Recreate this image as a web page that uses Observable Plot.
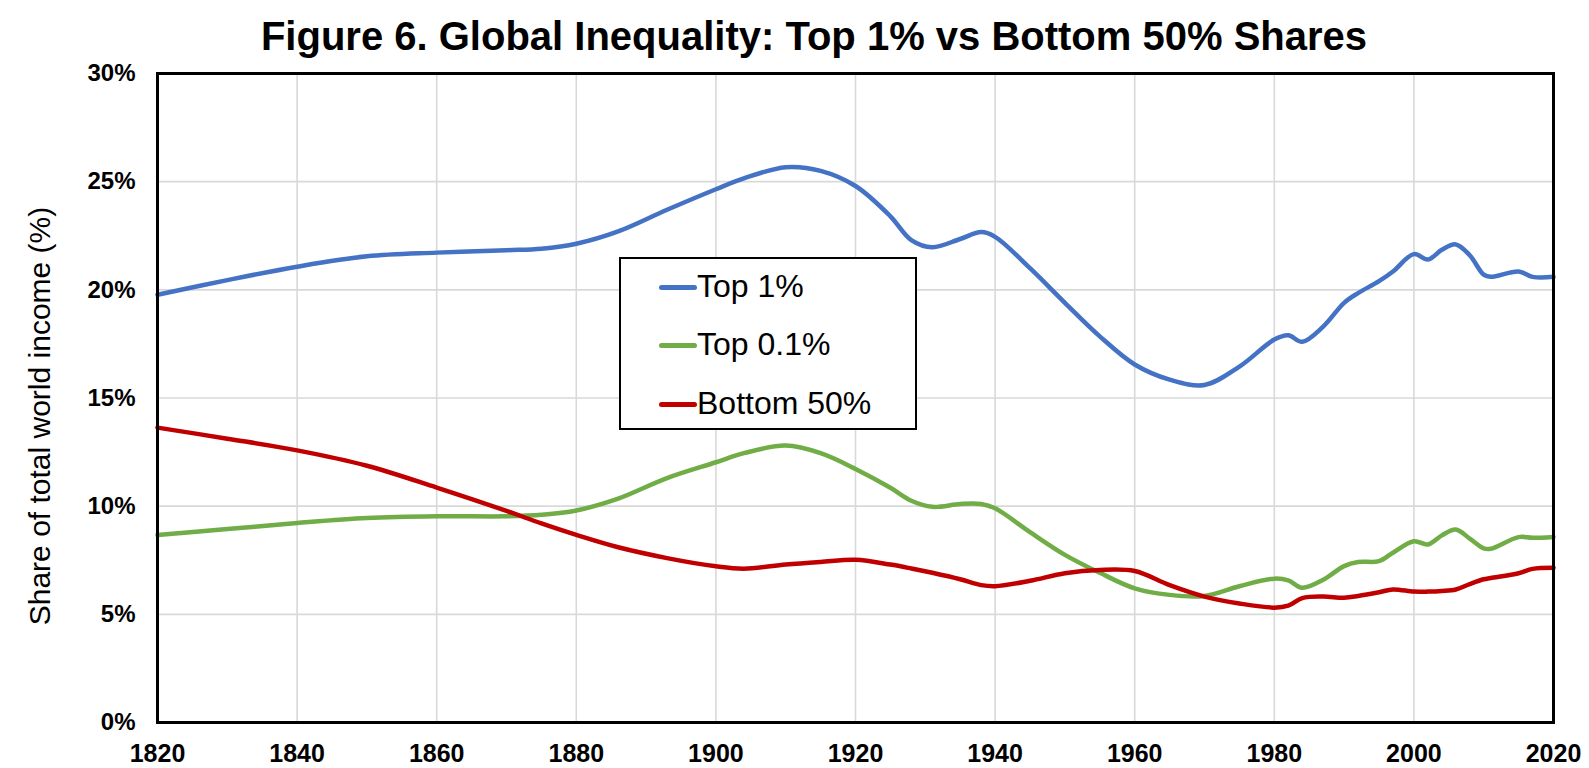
<!DOCTYPE html>
<html>
<head>
<meta charset="utf-8">
<script src="https://cdn.jsdelivr.net/npm/d3@7"></script>
<script src="https://cdn.jsdelivr.net/npm/@observablehq/plot@0.6"></script>
<style>
  body { margin: 0; background: #fff; font-family: "Liberation Sans", Arial, sans-serif; }
  #wrap { position: relative; width: 1589px; height: 768px; }
  #title { position: relative; height: 60px; }
  #title span { position: absolute; left: 814px; top: 16px; transform: translateX(-50%);
    white-space: nowrap; font-weight: bold; font-size: 40px; line-height: 40px; color: #000; }
  #ylabel { position: absolute; left: 40px; top: 416px; transform: translate(-50%, -50%) rotate(-90deg);
    white-space: nowrap; font-size: 30px; line-height: 30px; color: #000; }
  #legend { position: absolute; left: 619px; top: 257px; width: 294px; height: 169px;
    border: 2px solid #000; background: #fff; }
  .row { position: absolute; left: 0; height: 0; }
  .sw { position: absolute; left: 38px; width: 38px; height: 5px; border-radius: 3px; top: -2.5px; }
  .lt { position: absolute; left: 76px; top: -17px; font-size: 32px; line-height: 32px; white-space: nowrap; color: #000; }
  #chart svg { display: block; }
</style>
</head>
<body>
<div id="wrap">
  <div id="title"><span></span></div>
  <div id="chart"></div>
  <div id="ylabel"></div>
  <div id="legend"></div>
</div>
<script>
const titleText = "Figure 6. Global Inequality: Top 1% vs Bottom 50% Shares";
const yLabelText = "Share of total world income (%)";
const seriesNames = ["Top 1%", "Top 0.1%", "Bottom 50%"];
const seriesColors = ["#4472C4", "#70AD47", "#C00000"];
const xTicks = [1820, 1840, 1860, 1880, 1900, 1920, 1940, 1960, 1980, 2000, 2020];
const yTicks = [0, 5, 10, 15, 20, 25, 30];

const years = [1820,1830,1840,1850,1860,1870,1875,1880,1886,1893,1900,1904,1910,1915,1920,1925,1928,1931,1935,1938,1940,1945,1950,1955,1960,1965,1970,1975,1980,1982,1984,1987,1990,1992,1995,1997,2000,2002,2004,2006,2008,2010,2011,2015,2017,2020];
const top1 = [19.77,20.45,21.07,21.55,21.72,21.83,21.9,22.13,22.7,23.7,24.65,25.15,25.67,25.5,24.8,23.4,22.3,21.97,22.35,22.67,22.45,21.0,19.4,17.85,16.55,15.85,15.6,16.45,17.7,17.9,17.6,18.3,19.4,19.85,20.4,20.85,21.65,21.4,21.85,22.1,21.6,20.7,20.6,20.85,20.6,20.6];
const top01 = [8.67,8.94,9.22,9.45,9.53,9.53,9.6,9.8,10.35,11.3,12.03,12.45,12.8,12.45,11.72,10.85,10.25,9.97,10.1,10.1,9.9,8.8,7.75,6.92,6.2,5.9,5.85,6.3,6.65,6.57,6.23,6.6,7.23,7.42,7.46,7.85,8.38,8.23,8.65,8.92,8.5,8.05,8.03,8.57,8.54,8.58];
const bottom50 = [13.63,13.12,12.58,11.87,10.86,9.78,9.2,8.67,8.1,7.6,7.22,7.11,7.3,7.42,7.52,7.3,7.12,6.92,6.62,6.35,6.3,6.55,6.9,7.05,7.0,6.35,5.82,5.5,5.31,5.4,5.75,5.82,5.77,5.85,6.02,6.15,6.05,6.05,6.08,6.15,6.4,6.62,6.68,6.9,7.1,7.15];

const seriesValues = [top1, top01, bottom50];
const data = seriesNames.flatMap((name, s) =>
  years.map((yr, i) => ({ year: yr, value: seriesValues[s][i], series: name })));

document.querySelector("#title span").textContent = titleText;
document.getElementById("ylabel").textContent = yLabelText;

const chart = Plot.plot({
  width: 1589,
  height: 708,
  marginTop: 13,
  marginBottom: 46,
  marginLeft: 157,
  marginRight: 36,
  style: { fontFamily: "'Liberation Sans', Arial, sans-serif", background: "white", color: "black", overflow: "visible" },
  x: { domain: [1820, 2020] },
  y: { domain: [0, 30] },
  color: { domain: seriesNames, range: seriesColors },
  marks: [
    Plot.gridX(xTicks, { stroke: "#d9d9d9", strokeOpacity: 1, strokeWidth: 1.6 }),
    Plot.gridY(yTicks, { stroke: "#d9d9d9", strokeOpacity: 1, strokeWidth: 1.6 }),
    Plot.axisX(xTicks, { tickSize: 0, tickPadding: 22, fontSize: 25, fontWeight: "bold", tickFormat: d => String(d), label: null }),
    Plot.axisY(yTicks, { tickSize: 0, tickPadding: 22, fontSize: 24, fontWeight: "bold", tickFormat: d => d + "%", label: null }),
    Plot.line(data, { x: "year", y: "value", z: "series", stroke: "series", strokeWidth: 4.5, curve: "catmull-rom" }),
    Plot.frame({ stroke: "black", strokeWidth: 3 })
  ]
});
document.getElementById("chart").appendChild(chart);

// Legend (HTML, over the plot)
const legend = document.getElementById("legend");
const rowY = [28, 86, 145];
seriesNames.forEach((name, i) => {
  const row = document.createElement("div");
  row.className = "row";
  row.style.top = rowY[i] + "px";
  const sw = document.createElement("div");
  sw.className = "sw";
  sw.style.background = seriesColors[i];
  const lt = document.createElement("div");
  lt.className = "lt";
  lt.textContent = name;
  row.appendChild(sw);
  row.appendChild(lt);
  legend.appendChild(row);
});
</script>
</body>
</html>
